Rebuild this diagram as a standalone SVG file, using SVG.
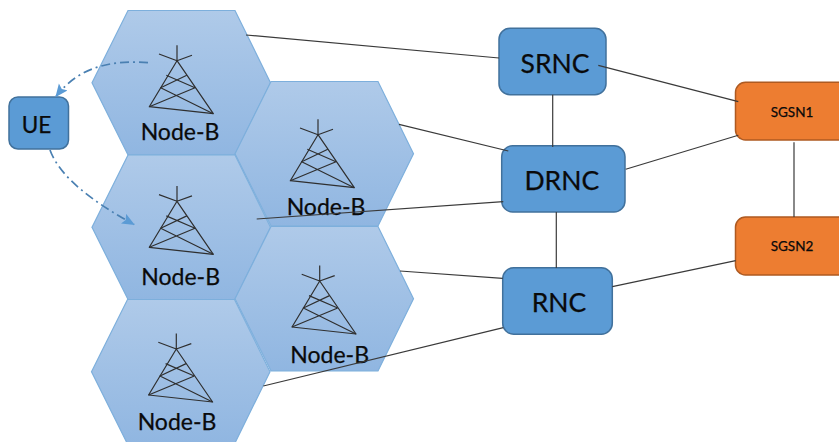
<svg xmlns="http://www.w3.org/2000/svg" width="839" height="442" viewBox="0 0 839 442">
<style>
.hex{fill:url(#hexfill);stroke:#7dafdc;stroke-width:1.2}
.tw{fill:none;stroke:#2f2f2f;stroke-width:1.2;stroke-linejoin:round}
text{font-family:"Lato","Liberation Sans",sans-serif;fill:#0a0a0a;stroke:#0a0a0a;stroke-width:.25;text-anchor:middle}
.nb{font-size:23px}
.big{font-size:26.500px}
.ue{font-size:22.500px}
.sg{font-size:13.500px}
.blue{fill:#5b9bd5;stroke:#41719c;stroke-width:1.5}
.org{fill:#ed7d31;stroke:#ae5a21;stroke-width:1.5}
.c{fill:none;stroke:#3a3a3a;stroke-width:1.2}
.d{fill:none;stroke:#4a80b2;stroke-width:1.7;stroke-dasharray:9 4 2 4}
</style>
<defs>
<linearGradient id="hexfill" x1="0" y1="0" x2="0" y2="1">
<stop offset="0" stop-color="#afcae9"/>
<stop offset="1" stop-color="#90b6e1"/>
</linearGradient>
<marker id="ah" markerWidth="14" markerHeight="12" refX="12" refY="5.500" orient="auto" markerUnits="userSpaceOnUse">
<path d="M0,0L13,5.500L0,11L2.500,5.500Z" fill="#5b9bd5"/>
</marker>
<polygon id="hx" points="0,72.2 36,0 143,0 178.500,72.2 143,144.500 36,144.500"/>
<g id="tower" class="tw">
<path d="M0,0V-15.400M0,0L-18,-6.700M0,0L15,-5.400"/>
<path d="M-27.700,46L0,0L36.300,53Z"/>
<path d="M-10.700,14.600L18,27M9.800,14.600L-16.300,27L36.300,53M-27.700,46L18,27"/>
</g>
</defs>
<g id="hex1"><use href="#hx" class="hex" x="92" y="10.500"/><use href="#tower" x="177" y="60.700"/><text class="nb" x="180" y="140">Node-B</text></g>
<g id="hex2"><use href="#hx" class="hex" x="235" y="81.500"/><use href="#tower" x="318" y="134.700"/><text class="nb" x="326" y="214.500">Node-B</text></g>
<g id="hex3"><use href="#hx" class="hex" x="92" y="155"/><use href="#tower" x="177" y="201.300"/><text class="nb" x="180.700" y="284.500">Node-B</text></g>
<g id="hex4"><use href="#hx" class="hex" x="235" y="226.500"/><use href="#tower" x="319.700" y="281"/><text class="nb" x="329.700" y="362.500">Node-B</text></g>
<g id="hex5"><use href="#hx" class="hex" x="91.500" y="299.500"/><use href="#tower" x="176.300" y="349"/><text class="nb" x="177" y="429.500">Node-B</text></g>
<g id="ue"><rect class="blue" x="9" y="97" width="59.500" height="52" rx="9"/><text class="ue" x="36.500" y="133">UE</text></g>
<g id="srnc"><rect class="blue" x="499" y="28.300" width="107" height="66.400" rx="11"/><text class="big" x="555" y="72.700">SRNC</text></g>
<g id="drnc"><rect class="blue" x="501.700" y="145.700" width="123.300" height="66.300" rx="11"/><text class="big" x="561.800" y="190.300">DRNC</text></g>
<g id="rnc"><rect class="blue" x="502.700" y="267.700" width="109.600" height="66.600" rx="11"/><text class="big" x="559" y="311.700">RNC</text></g>
<g id="sgsn1"><rect class="org" x="735.500" y="82.300" width="115" height="57.700" rx="10"/><text class="sg" x="792" y="116.700">SGSN1</text></g>
<g id="sgsn2"><rect class="org" x="735.500" y="217" width="115" height="58" rx="10"/><text class="sg" x="792" y="251.300">SGSN2</text></g>
<g id="connectors">
<path class="c" d="M246,35L499,58"/>
<path class="c" d="M552.700,94.700V147"/>
<path class="c" d="M598.300,65.300L738.300,101.700"/>
<path class="c" d="M625.700,169.300L738.300,135.300"/>
<path class="c" d="M556.300,212V268"/>
<path class="c" d="M612.300,286.700L735.700,260.700"/>
<path class="c" d="M794,142.300V217"/>
<path class="c" d="M399,124.300L508.300,151"/>
<path class="c" d="M256.700,219L503.300,201.700"/>
<path class="c" d="M400,271L502.700,278.300"/>
<path class="c" d="M263.300,386L503.300,327.700"/>
<path class="d" marker-end="url(#ah)" d="M148,62.700C115,60 80,65 56,96.500"/>
<path class="d" marker-end="url(#ah)" d="M50,150C60,178 95,203 134,224.500"/>
</g>
</svg>
